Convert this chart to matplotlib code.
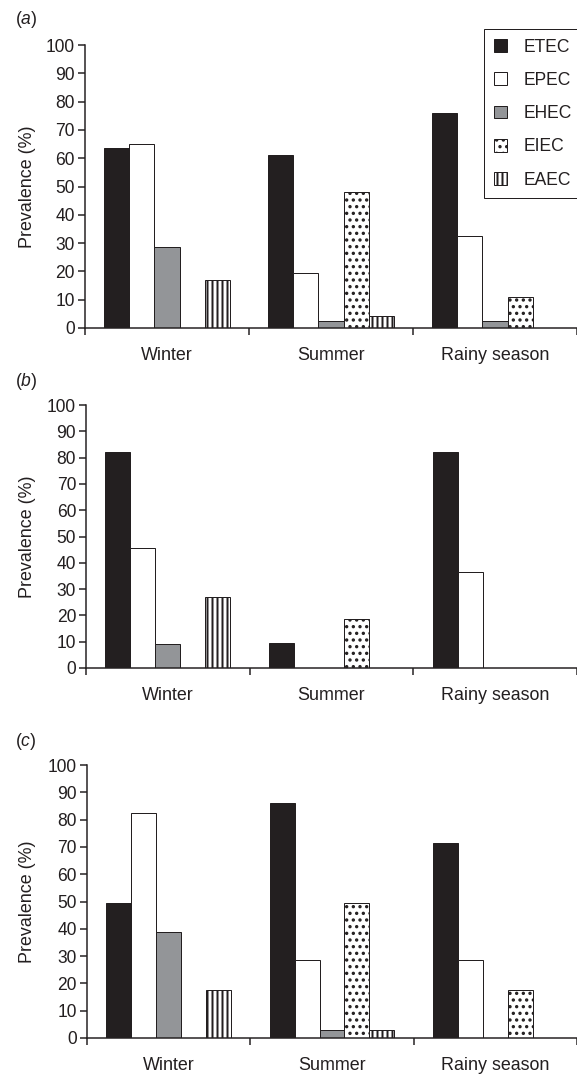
import matplotlib
matplotlib.use('Agg')
import matplotlib.pyplot as plt
import numpy as np

plt.rcParams['font.family'] = ['Liberation Sans', 'DejaVu Sans']
plt.rcParams['mathtext.fontset'] = 'custom'
plt.rcParams['mathtext.rm'] = 'Liberation Sans'
plt.rcParams['mathtext.it'] = 'Liberation Sans:italic'
plt.rcParams['hatch.linewidth'] = 1.2
plt.rcParams['hatch.color'] = '#231f20'

seasons = ['Winter', 'Summer', 'Rainy season']
types = ['ETEC', 'EPEC', 'EHEC', 'EIEC', 'EAEC']

# prevalence (%) by season: Winter, Summer, Rainy season
etec_a = [63.5, 61, 76]
epec_a = [65, 19.5, 32.5]
ehec_a = [28.5, 2.5, 2.5]
eiec_a = [0, 48, 11]
eaec_a = [17, 4.3, 0]

etec_b = [82, 9.5, 82]
epec_b = [45.5, 0, 36.5]
ehec_b = [9, 0, 0]
eiec_b = [0, 18.5, 0]
eaec_b = [27, 0, 0]

etec_c = [49.5, 86, 71.5]
epec_c = [82.5, 28.5, 28.5]
ehec_c = [39, 3, 0]
eiec_c = [0, 49.5, 17.5]
eaec_c = [17.5, 3, 0]

panels = [
    ('a', [etec_a, epec_a, ehec_a, eiec_a, eaec_a]),
    ('b', [etec_b, epec_b, ehec_b, eiec_b, eaec_b]),
    ('c', [etec_c, epec_c, ehec_c, eiec_c, eaec_c]),
]

ink = '#231f20'
fills = [ink, 'white', '#939598', 'white', 'white']
hatches = [None, None, None, '...', '||||']

W, H, DPI = 577, 1075, 120
fig = plt.figure(figsize=(W / DPI, H / DPI), dpi=DPI)

# pixel layout: left edge, y of 0, y of 100, y of panel letter
boxes = [(85, 328, 45, 20), (86, 668, 405, 382), (87, 1038, 765, 742)]
cat_w = 165.5
bw = 0.153

for (letter, data), (left, y0, y100, ly) in zip(panels, boxes):
    ax = fig.add_axes([left / W, 1 - y0 / H, 1 - left / W, (y0 - y100) / H])
    x = np.arange(len(seasons)) + 0.5
    for i, (name, vals) in enumerate(zip(types, data)):
        ax.bar(x + (i - 2) * bw, vals, bw, color=fills[i], hatch=hatches[i],
               edgecolor=ink, linewidth=0.6, label=name)

    ax.set_xlim(0, (W - left) / cat_w)
    ax.set_ylim(0, 100)
    ax.set_yticks(range(0, 101, 10))
    ax.set_xticks([0, 1, 2, 3])
    ax.set_xticklabels([])
    ax.set_xticks(x, minor=True)
    ax.set_xticklabels(seasons, minor=True)

    for s in ['top', 'right']:
        ax.spines[s].set_visible(False)
    for s in ['left', 'bottom']:
        ax.spines[s].set_color(ink)
        ax.spines[s].set_linewidth(0.9)

    ax.tick_params(axis='x', which='minor', length=0, pad=11.4, labelsize=10.7, labelcolor=ink)
    ax.tick_params(axis='x', which='major', length=4.2, width=0.9, color=ink)
    ax.tick_params(axis='y', length=4.2, width=0.9, pad=1.8, labelsize=10.5, color=ink, labelcolor=ink)

    ax.set_ylabel('Prevalence (%)', fontsize=10.7, color=ink, va='center')
    ax.yaxis.set_label_coords(-(left - 27) / (W - left), 0.5)

    fig.text(15 / W, 1 - ly / H, r'($\mathit{' + letter + r'}$)', ha='left', va='center',
             fontsize=10.5, color=ink)

    if letter == 'a':
        handles, labels = ax.get_legend_handles_labels()
        leg = fig.legend(handles, labels, loc='upper left',
                         bbox_to_anchor=(484 / W, 1 - 29 / H), bbox_transform=fig.transFigure,
                         borderaxespad=0, fontsize=10.5, handlelength=0.74, handleheight=0.74,
                         handletextpad=0.97, labelspacing=0.93, borderpad=0.55,
                         fancybox=False, framealpha=1, edgecolor=ink)
        leg.get_frame().set_linewidth(0.6)
        for t in leg.get_texts():
            t.set_color(ink)

fig.savefig('out.png', dpi=DPI)
